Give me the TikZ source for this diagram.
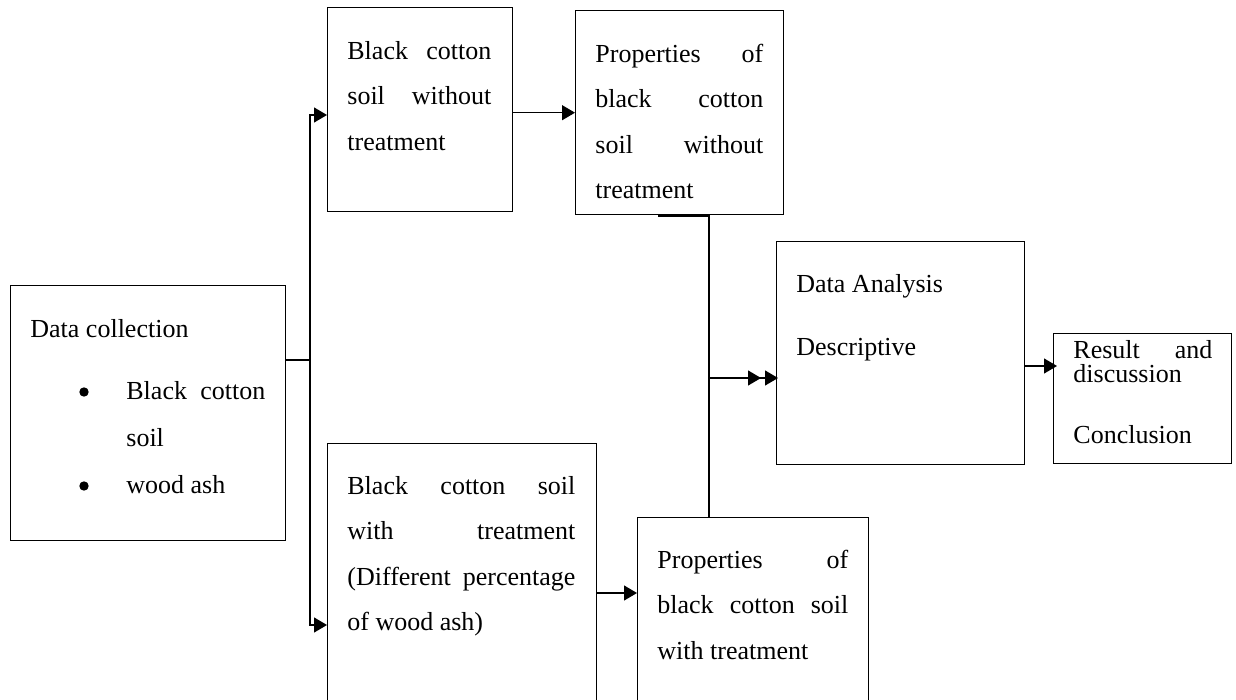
\documentclass[tikz,border=0pt]{standalone}
\usepackage{fontspec}
\setmainfont{Liberation Serif}
\usetikzlibrary{arrows.meta}
\newcommand{\jl}[2]{\makebox[#1][s]{#2}}
\newcommand{\fs}{\rule{0pt}{10pt}}
\begin{document}
\begin{tikzpicture}[x=0.5pt,y=-0.5pt,
  box/.style={draw, line width=0.7pt, anchor=north west, inner sep=0},
  txt/.style={anchor=north west, inner sep=0, font=\fontsize{13}{22.75}\selectfont},
  link/.style={line width=0.6pt},
  bul/.style={fill=black},
  arr/.style={link, -{Triangle[length=6.5pt,width=7.5pt]}}]
\useasboundingbox (0,0) rectangle (1236,700);
\clip (0,0) rectangle (1236,700);

% boxes
\node[box, minimum width=137.5pt, minimum height=127.5pt] (A) at (10,285) {};
\node[box, minimum width=92.5pt, minimum height=102pt] (B) at (327,7) {};
\node[box, minimum width=104pt, minimum height=102pt] (C) at (575,10) {};
\node[box, minimum width=134.5pt, minimum height=138.5pt] (D) at (327,443) {};
\node[box, minimum width=115.5pt, minimum height=101.5pt] (E) at (637,517) {};
\node[box, minimum width=124pt, minimum height=111.5pt] (F) at (776,241) {};
\node[box, minimum width=89pt, minimum height=65pt] (G) at (1053,333) {};

% texts
\node[txt, font=\fontsize{13}{23.5}\selectfont] (At) at (30,317) {\parbox[t]{130pt}{\fs Data collection\\[7.5pt]
  \hspace*{48pt}\jl{69.5pt}{Black\hfill cotton}\\
  \hspace*{48pt}soil\\
  \hspace*{48pt}wood ash}};
\fill[bul] (84,392) circle[radius=2.35pt];
\fill[bul] (84,486) circle[radius=2.35pt];
\node[txt] (Bt) at (347,39) {\parbox[t]{72pt}{\fs\jl{72pt}{Black\hfill cotton}\\
  \jl{72pt}{soil\hfill without}\\ treatment}};
\node[txt] (Ct) at (595,42) {\parbox[t]{84pt}{\fs\jl{84pt}{Properties\hfill of}\\
  \jl{84pt}{black\hfill cotton}\\ \jl{84pt}{soil\hfill without}\\ treatment}};
\node[txt] (Dt) at (347,474) {\parbox[t]{114pt}{\fs\jl{114pt}{Black\hfill cotton\hfill soil}\\
  \jl{114pt}{with\hfill treatment}\\ \jl{114pt}{(Different\hfill percentage}\\ of wood ash)}};
\node[txt] (Et) at (657,548) {\parbox[t]{95.5pt}{\fs\jl{95.5pt}{Properties\hfill of}\\
  \jl{95.5pt}{black\hfill cotton\hfill soil}\\ with treatment}};
\node[txt] (Ft) at (796,272) {\parbox[t]{110pt}{\fs Data Analysis\\[8.75pt] Descriptive}};
\node[txt] (Gt) at (1073,338) {\parbox[t]{69.5pt}{\fs\jl{69.5pt}{Result\hfill and}\\[-10.75pt]
  discussion\\[7.75pt] Conclusion}};

% connectors
\coordinate (j1) at (310,360);
\coordinate (bin) at (327,115);
\coordinate (din) at (327,625);
\coordinate (c1) at (658,216);
\coordinate (m) at (709,378);
\coordinate (f1) at (761,378);
\coordinate (fin) at (778,378);
\coordinate (ein) at (637,593);
\coordinate (gin) at (1057,366);

\draw[link] (A.east |- j1) -- (j1);
\draw[arr] (j1) |- (bin);
\draw[arr] (j1) |- (din);
\draw[arr] (B.east |- C.west) -- (C.west);
\draw[arr] (c1) -| (m) -- (f1);
\draw[arr] (E.north -| m) -- (m) -- (fin);
\draw[arr] (D.east |- ein) -- (ein);
\draw[arr] (F.east |- gin) -- (gin);
\end{tikzpicture}
\end{document}
